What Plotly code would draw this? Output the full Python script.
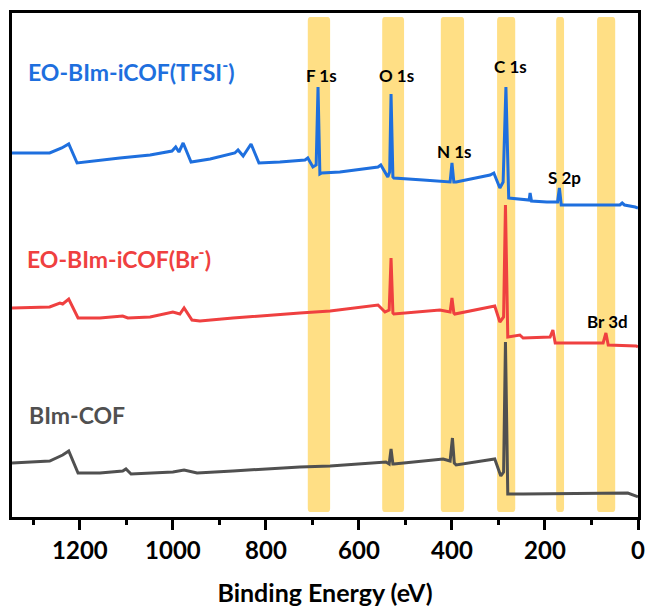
import plotly.graph_objects as go

# ---- data (binding energy in eV, intensity in arbitrary offset units) ----
tfsi_be = [1346, 1265, 1239, 1224, 1206, 1189, 1114, 1049, 1002, 994, 987, 978, 961, 920, 867, 860, 849, 832, 815,
           770, 716, 710, 699, 692, 688, 684, 680, 641, 559, 553, 538, 534, 531, 527, 525, 462, 404, 400, 396, 391,
           318, 310, 297, 290, 284, 278, 237, 234, 232, 229, 196, 173, 169, 165, 161, 39, 34, 29, 6, 0]
tfsi_int = [364, 364, 369, 373, 354, 355, 359, 362, 366, 370, 365, 374, 355, 358, 364, 367, 361, 373, 354,
            355, 357, 359, 350, 352, 430, 343, 344, 345, 350, 352, 340, 345, 423, 340, 339, 337, 335, 354, 335, 335,
            342, 344, 329, 335, 430, 319, 317, 317, 324, 316, 315, 315, 329, 312, 312, 312, 314, 312, 310, 309]

br_be = [1346, 1265, 1243, 1237, 1224, 1204, 1157, 1108, 1097, 1049, 1000, 985, 976, 959, 942, 871, 727, 662,
         559, 544, 535, 531, 527, 525, 426, 404, 400, 396, 394, 316, 308, 297, 289, 285, 280, 254, 247, 189, 183,
         178, 75, 69, 64, 4, 0]
br_int = [209, 210, 214, 213, 218, 199, 199, 201, 199, 200, 205, 203, 209, 197, 196, 199, 204, 206,
          212, 205, 207, 259, 204, 203, 207, 205, 219, 204, 203, 210, 211, 195, 200, 312, 180, 182, 179, 180, 187,
          174, 174, 184, 172, 171, 170]

bim_be = [1346, 1265, 1237, 1224, 1204, 1157, 1108, 1101, 1090, 1049, 1000, 976, 948, 871, 727, 662, 542, 535,
          531, 527, 525, 419, 404, 399, 395, 391, 308, 295, 289, 285, 280, 247, 22, 4, 0]
bim_int = [54, 56, 62, 66, 44, 44, 46, 48, 43, 44, 45, 47, 44, 46, 50, 51, 55, 53,
           68, 53, 53, 58, 56, 79, 54, 52, 58, 41, 45, 175, 23, 23, 24, 21, 20]

series_names = ["EO-BIm-iCOF(TFSI<sup>-</sup>)", "EO-BIm-iCOF(Br<sup>-</sup>)", "BIm-COF"]

# element regions (eV) highlighted by bands
band_lo = [662, 503, 374, 264, 159, 49]
band_hi = [710, 550, 424, 303, 176, 88]

peak_labels = ["F 1s", "O 1s", "N 1s", "C 1s", "S 2p", "Br 3d"]
peak_label_be = [680, 519, 394, 275, 159, 66]
peak_label_int = [442, 442, 366, 451, 340, 196]

x_ticks = [0, 200, 400, 600, 800, 1000, 1200]

# ---- styling ----
colors = ["#1E6FDE", "#EF4040", "#505050"]
band_color = "#FFDF85"
FONT = "Lato"

fig = go.Figure()

# bands as rounded rectangles
y_top, y_bot = 500, 5
rx, ry = 5, 4
for lo, hi in zip(band_lo, band_hi):
    path = (f"M {lo+rx},{y_bot} L {hi-rx},{y_bot} Q {hi},{y_bot} {hi},{y_bot+ry} "
            f"L {hi},{y_top-ry} Q {hi},{y_top} {hi-rx},{y_top} L {lo+rx},{y_top} "
            f"Q {lo},{y_top} {lo},{y_top-ry} L {lo},{y_bot+ry} Q {lo},{y_bot} {lo+rx},{y_bot} Z")
    fig.add_shape(type="path", path=path, xref="x", yref="y", fillcolor=band_color,
                  line=dict(width=0), layer="below")

for be, inten, c in zip([tfsi_be, br_be, bim_be], [tfsi_int, br_int, bim_int], colors):
    fig.add_trace(go.Scatter(x=be, y=inten, mode="lines", line=dict(color=c, width=3),
                             showlegend=False, hoverinfo="skip"))

# series labels
label_pos = [(1316, 447), (1318, 260), (1314, 102)]
for name, (lx, ly), c in zip(series_names, label_pos, colors):
    fig.add_annotation(x=lx, y=ly, text=name, showarrow=False, xanchor="left", yanchor="middle",
                       font=dict(family=FONT, size=23, color=c, weight="bold"))

# peak labels
for t, lx, ly in zip(peak_labels, peak_label_be, peak_label_int):
    fig.add_annotation(x=lx, y=ly, text=t, showarrow=False, xanchor="center", yanchor="middle",
                       font=dict(family=FONT, size=17, color="black", weight="bold"))

fig.update_layout(
    width=646, height=610,
    margin=dict(l=12, r=8, t=13, b=93, autoexpand=False),
    paper_bgcolor="white", plot_bgcolor="white",
    xaxis=dict(
        range=[1346, 0], tickvals=x_ticks, ticktext=[str(v) for v in x_ticks],
        ticks="outside", ticklen=10, tickwidth=2.5, tickcolor="black",
        showline=True, linewidth=2.5, linecolor="black", mirror=True,
        showgrid=False, zeroline=False, automargin=False,
        tickfont=dict(family=FONT, size=24, color="black", weight="bold"),
        minor=dict(dtick=100, tick0=0, ticks="outside", ticklen=5, tickwidth=2.5, tickcolor="black", showgrid=False),
        title=dict(text="Binding Energy (eV)", standoff=22,
                   font=dict(family=FONT, size=25, color="black", weight="bold")),
    ),
    yaxis=dict(
        range=[0, 504], showticklabels=False, ticks="", showgrid=False, zeroline=False,
        showline=True, linewidth=2.5, linecolor="black", mirror=True, automargin=False,
    ),
)

fig.write_html("out.html")
